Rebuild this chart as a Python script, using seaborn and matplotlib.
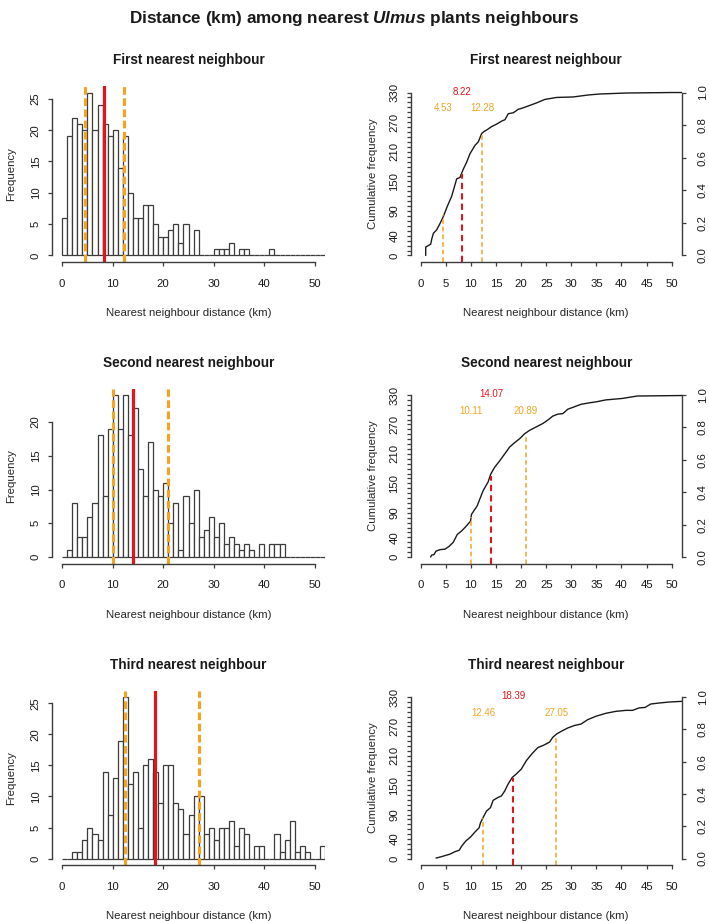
import numpy as np
import pandas as pd
import matplotlib
matplotlib.use("Agg")
import matplotlib.pyplot as plt
import seaborn as sns

# ---- histogram counts, 1 km bins starting at 0 km ----
first_counts = [6, 19, 22, 21, 20, 26, 20, 24, 21, 19, 20, 14, 19, 10, 6, 6, 8, 8, 5, 3,
                3, 4, 5, 2, 5, 0, 4, 0, 0, 0, 1, 1, 1, 2, 0, 1, 1, 0, 0, 0,
                0, 1]
second_counts = [0, 1, 8, 3, 3, 6, 8, 18, 9, 19, 24, 19, 24, 18, 22, 13, 9, 17, 10, 9,
                 11, 5, 8, 1, 9, 5, 10, 3, 4, 6, 3, 5, 2, 3, 2, 1, 2, 1, 0, 2,
                 0, 2, 2, 2]
third_counts = [0, 0, 1, 1, 3, 5, 4, 3, 14, 7, 13, 19, 26, 12, 14, 5, 15, 16, 14, 9,
                15, 15, 9, 8, 4, 7, 10, 10, 4, 5, 3, 5, 5, 6, 2, 5, 4, 0, 2, 2,
                0, 0, 4, 1, 3, 6, 1, 2, 1, 0, 0, 2]

# ---- cumulative curves (distance km, cumulative count) ----
first_ecdf_x = [0.99, 0.99, 1.99, 2.19, 2.52, 3.18, 3.85, 4.51, 5.31, 6.17, 7.16, 7.82,
                8.49, 9.15, 9.81, 10.81, 11.47, 12.14, 12.6, 13.13, 14.12, 15.12, 16.11,
                16.78, 17.44, 18.44, 19.43, 20.42, 21.75, 23.08, 24.73, 27.06, 30.37,
                33.36, 35.68, 40.98, 50.0, 53.0]
first_ecdf_y = [0, 17, 23, 33, 45, 52, 65, 79, 100, 120, 155, 158,
                175, 189, 206, 223, 230, 247, 251, 254, 261, 266, 272,
                275, 287, 289, 296, 299, 304, 309, 316, 320, 321,
                325, 327, 329, 330, 330]
second_ecdf_x = [1.98, 2.18, 2.65, 3.04, 3.84, 4.83, 5.69, 6.48, 7.28, 8.13, 8.99, 9.92,
                 10.12, 10.78, 11.24, 11.77, 12.43, 13.43, 13.95, 14.75, 15.74, 16.73,
                 17.72, 18.72, 19.71, 20.70, 21.69, 23.02, 24.34, 25.33, 26.32, 27.31,
                 28.31, 29.30, 30.62, 31.94, 33.60, 34.92, 36.90, 40.21, 43.19, 44.18,
                 53.0]
second_ecdf_y = [0, 4, 5, 12, 15, 16, 22, 30, 46, 53, 62, 73,
                 87, 97, 104, 118, 135, 153, 169, 183, 196, 210,
                 224, 233, 241, 251, 258, 265, 272, 279, 287, 291,
                 292, 301, 306, 311, 314, 316, 320, 323, 328, 328,
                 329]
third_ecdf_x = [3.04, 3.84, 4.83, 5.82, 6.81, 7.67, 8.13, 8.99, 9.92, 10.78, 11.64, 11.90,
                12.43, 13.10, 13.89, 14.42, 15.41, 16.07, 16.73, 17.39, 18.25, 19.05,
                20.04, 21.03, 22.22, 23.35, 24.34, 25.66, 26.32, 27.12, 27.98, 29.30,
                30.62, 31.94, 33.27, 34.92, 36.90, 38.89, 40.87, 42.20, 43.52, 44.71,
                45.83, 47.49, 49.47, 53.0]
third_ecdf_y = [1, 3, 6, 9, 14, 17, 25, 36, 44, 54, 63, 73,
                84, 97, 104, 119, 125, 128, 138, 152, 166, 173,
                183, 200, 215, 227, 231, 238, 248, 255, 260, 267,
                272, 275, 284, 291, 297, 301, 303, 303, 308, 309,
                316, 318, 320, 322]

# lower quartile, median, upper quartile
first_stats = [4.53, 8.22, 12.28]
second_stats = [10.11, 14.07, 20.89]
third_stats = [12.46, 18.39, 27.05]

titles = ["First nearest neighbour", "Second nearest neighbour", "Third nearest neighbour"]
hist_yticks = [[0, 5, 10, 15, 20, 25], [0, 5, 10, 15, 20], [0, 5, 10, 15, 20, 25]]
cum_ticklabels = [0, 40, 90, 150, 210, 270, 330]
n_total = 330

RED = "#E3151B"
ORANGE = "#F2A525"
EDGE = "#3c3c3c"
FS = 8.2

sns.set_style("ticks")
plt.rcParams["font.family"] = ["Liberation Sans", "DejaVu Sans"]
plt.rcParams["mathtext.fontset"] = "custom"
plt.rcParams["mathtext.bf"] = "Liberation Sans:bold:italic"
plt.rcParams["axes.edgecolor"] = EDGE
plt.rcParams["xtick.color"] = EDGE
plt.rcParams["ytick.color"] = EDGE
plt.rcParams["text.color"] = "#1a1a1a"

W, H = 709, 921
fig = plt.figure(figsize=(W / 100, H / 100), dpi=100)


def px_axes(left, top, right, bottom):
    return fig.add_axes([left / W, 1 - bottom / H, (right - left) / W, (bottom - top) / H])


def r_style(ax, ybounds):
    for s in ["top", "right"]:
        ax.spines[s].set_visible(False)
    ax.spines["left"].set_bounds(*ybounds)
    ax.spines["bottom"].set_bounds(0, 50)
    ax.spines["left"].set_linewidth(1.0)
    ax.spines["bottom"].set_linewidth(1.0)
    ax.tick_params(axis="both", direction="out", length=3.2, width=0.9, labelsize=FS,
                   labelcolor="#1a1a1a")
    ax.tick_params(axis="x", pad=9)
    ax.tick_params(axis="y", pad=5, labelrotation=90)
    for lab in ax.get_yticklabels():
        lab.set_verticalalignment("center")


hist_data = [first_counts, second_counts, third_counts]
ecdf_data = [(first_ecdf_x, first_ecdf_y), (second_ecdf_x, second_ecdf_y),
             (third_ecdf_x, third_ecdf_y)]
stats = [first_stats, second_stats, third_stats]
rows = [(86, 262), (388.5, 563.5), (690.7, 865)]

for i in range(3):
    top, bottom = rows[i]

    # ---------- histogram ----------
    counts = hist_data[i] + [0] * (56 - len(hist_data[i]))
    edges = [float(e) for e in range(len(counts) + 1)]
    df = pd.DataFrame({"dist": [e + 0.5 for e in edges[:-1]], "n": counts})
    ax = px_axes(52, top, 325, bottom)
    sns.histplot(data=df, x="dist", weights="n", bins=edges, ax=ax, color="white",
                 edgecolor=EDGE, linewidth=0.9, alpha=1)
    ymax = max(counts)
    ax.set_xlim(-2, 52)
    ax.set_ylim(-0.04 * ymax, 1.04 * ymax)
    ax.set_xticks([0, 10, 20, 30, 40, 50])
    ax.set_yticks(hist_yticks[i])
    r_style(ax, (hist_yticks[i][0], hist_yticks[i][-1]))
    q1, med, q3 = stats[i]
    ax.axvline(q1, color=ORANGE, lw=2.3, ls=(0, (2.4, 1.1)))
    ax.axvline(q3, color=ORANGE, lw=2.3, ls=(0, (2.4, 1.1)))
    ax.axvline(med, color=RED, lw=2.3)
    ax.set_title(titles[i], fontsize=9.8, fontweight="bold", pad=15.5)
    ax.set_ylabel("Frequency", fontsize=FS, labelpad=10.5)
    ax.set_xlabel("Nearest neighbour distance (km)", fontsize=FS, labelpad=14)

    # ---------- cumulative frequency ----------
    ex, ey = ecdf_data[i]
    bx = px_axes(410.7, top, 681.7, bottom)
    sns.lineplot(x=ex, y=ey, ax=bx, color="#1a1a1a", lw=1.0, sort=False, estimator=None)
    bx.set_xlim(-2, 52)
    ylo, yhi = -0.04 * n_total, 1.04 * n_total
    bx.set_ylim(ylo, yhi)
    bx.set_xticks(np.arange(0, 51, 5))
    bx.set_yticks(np.arange(0, n_total + 1, 10))
    bx.set_yticklabels([str(v) if v in cum_ticklabels else "" for v in np.arange(0, n_total + 1, 10)])
    r_style(bx, (0, n_total))
    bx.vlines([q1, q3], ylo, [0.25 * n_total, 0.75 * n_total], color=ORANGE, lw=1.1,
              linestyles=(0, (3, 2)))
    bx.vlines(med, ylo, 0.5 * n_total, color=RED, lw=1.5, linestyles=(0, (3, 2)))
    bx.text(med, 332, f"{med:.2f}", color=RED, fontsize=7, ha="center", va="center")
    bx.text(q1, 298, f"{q1:.2f}", color=ORANGE, fontsize=7, ha="center", va="center")
    bx.text(q3, 298, f"{q3:.2f}", color=ORANGE, fontsize=7, ha="center", va="center")
    bx.set_title(titles[i], fontsize=9.8, fontweight="bold", pad=15.5)
    bx.set_ylabel("Cumulative frequency", fontsize=FS, labelpad=8)
    bx.set_xlabel("Nearest neighbour distance (km)", fontsize=FS, labelpad=14)

    # right axis with proportion
    rx = bx.twinx()
    rx.set_ylim(ylo / n_total, yhi / n_total)
    rx.set_yticks([0.0, 0.2, 0.4, 0.6, 0.8, 1.0])
    rx.set_yticklabels(["0.0", "0.2", "0.4", "0.6", "0.8", "1.0"])
    for s in ["top", "left", "bottom"]:
        rx.spines[s].set_visible(False)
    rx.spines["right"].set_bounds(0, 1)
    rx.spines["right"].set_linewidth(1.0)
    rx.tick_params(axis="y", direction="out", length=3.2, width=0.9, labelsize=FS,
                   labelrotation=90, pad=8.5, labelcolor="#1a1a1a")
    for lab in rx.get_yticklabels():
        lab.set_verticalalignment("center")

fig.text(0.5, 1 - 18 / H, r"Distance (km) among nearest $\mathbf{Ulmus}$ plants neighbours",
         ha="center", va="center", fontsize=12.3, fontweight="bold")

fig.savefig("out.png", dpi=100, facecolor="white")
